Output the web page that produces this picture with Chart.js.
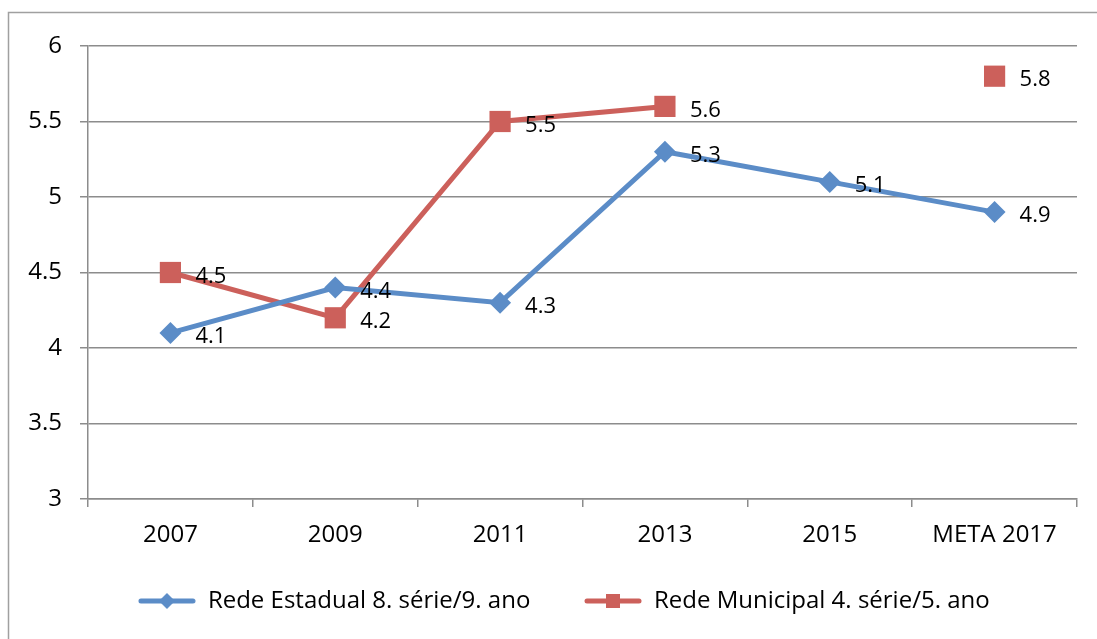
<!DOCTYPE html>
<html lang="pt">
<head>
    <meta charset="UTF-8">
    <title>Rede Estadual x Rede Municipal</title>
    <script src="https://cdn.jsdelivr.net/npm/chart.js"></script>
    <style>
        body {
            margin: 0;
            padding: 0;
            background: #fff;
        }
        #chart-container {
            width: 1097px;
            height: 639px;
        }
    </style>
</head>
<body>
    <div id="chart-container">
        <canvas id="myChart"></canvas>
    </div>
    <script>
        // dados do gráfico
        const categorias = ['2007', '2009', '2011', '2013', '2015', 'META 2017'];
        const redeEstadual = [4.1, 4.4, 4.3, 5.3, 5.1, 4.9];
        const redeMunicipal = [4.5, 4.2, 5.5, 5.6, null, 5.8];
        const nomesSeries = ['Rede Estadual 8. série/9. ano', 'Rede Municipal 4. série/5. ano'];

        const azul = '#5B8CC7';
        const vermelho = '#CC605B';
        const cinza = '#8C8C8C';
        const fonte = "'Open Sans', sans-serif";

        // ícone da legenda: linha com marcador no meio
        function iconeLegenda(cor, tipo) {
            const c = document.createElement('canvas');
            c.width = 58;
            c.height = 22;
            const g = c.getContext('2d');
            g.strokeStyle = cor;
            g.lineWidth = 5;
            g.lineCap = 'round';
            g.beginPath();
            g.moveTo(3, 11);
            g.lineTo(55, 11);
            g.stroke();
            g.fillStyle = cor;
            g.beginPath();
            if (tipo === 'diamante') {
                g.moveTo(29, 3); g.lineTo(37, 11); g.lineTo(29, 19); g.lineTo(21, 11);
            } else {
                g.rect(22, 4, 14, 14);
            }
            g.fill();
            return c;
        }
        const icones = [iconeLegenda(azul, 'diamante'), iconeLegenda(vermelho, 'quadrado')];

        // moldura externa
        const moldura = {
            id: 'moldura',
            beforeDraw(chart) {
                const g = chart.ctx;
                g.save();
                g.strokeStyle = '#A0A0A0';
                g.lineWidth = 1.5;
                g.beginPath();
                g.moveTo(8.5, chart.height);
                g.lineTo(8.5, 12.5);
                g.lineTo(chart.width, 12.5);
                g.stroke();
                g.restore();
            }
        };

        // rótulos de dados à direita de cada ponto
        const rotulos = {
            id: 'rotulos',
            afterDatasetsDraw(chart) {
                const g = chart.ctx;
                g.save();
                g.font = '22px ' + fonte;
                g.fillStyle = '#000';
                g.textAlign = 'left';
                g.textBaseline = 'middle';
                chart.data.datasets.forEach((ds, i) => {
                    chart.getDatasetMeta(i).data.forEach((pt, j) => {
                        const v = ds.data[j];
                        if (v === null || v === undefined) return;
                        g.fillText(v.toFixed(1), pt.x + 25, pt.y + 4);
                    });
                });
                g.restore();
            }
        };

        const ctx = document.getElementById('myChart').getContext('2d');
        new Chart(ctx, {
            type: 'line',
            data: {
                labels: categorias,
                datasets: [
                    {
                        label: nomesSeries[0],
                        data: redeEstadual,
                        borderColor: azul,
                        backgroundColor: azul,
                        borderWidth: 5,
                        pointStyle: 'rectRot',
                        pointRadius: 11,
                        pointHoverRadius: 11,
                        pointBorderWidth: 0,
                        tension: 0
                    },
                    {
                        label: nomesSeries[1],
                        data: redeMunicipal,
                        borderColor: vermelho,
                        backgroundColor: vermelho,
                        borderWidth: 5,
                        pointStyle: 'rect',
                        pointRadius: 15,
                        pointHoverRadius: 15,
                        pointBorderWidth: 0,
                        spanGaps: false,
                        tension: 0
                    }
                ]
            },
            options: {
                responsive: true,
                maintainAspectRatio: false,
                animation: false,
                layout: {
                    padding: { left: 18, right: 20, top: 46, bottom: 16 }
                },
                scales: {
                    x: {
                        offset: true,
                        afterFit(scale) { scale.height = 80; },
                        grid: {
                            offset: true,
                            drawOnChartArea: false,
                            tickLength: 8,
                            color: cinza,
                            lineWidth: 1.5
                        },
                        border: { color: cinza, width: 1.5 },
                        ticks: {
                            padding: 14,
                            color: '#000',
                            font: { family: fonte, size: 24 }
                        }
                    },
                    y: {
                        min: 3,
                        max: 6,
                        afterFit(scale) { scale.width = 70; },
                        grid: {
                            tickLength: 8,
                            color: cinza,
                            lineWidth: 1.5
                        },
                        border: { color: cinza, width: 1.5 },
                        ticks: {
                            stepSize: 0.5,
                            padding: 18,
                            color: '#000',
                            font: { family: fonte, size: 24 },
                            callback: v => String(v)
                        }
                    }
                },
                plugins: {
                    legend: {
                        display: true,
                        position: 'bottom',
                        fullSize: false,
                        labels: {
                            usePointStyle: true,
                            pointStyleWidth: 58,
                            boxHeight: 22,
                            padding: 10,
                            color: '#000',
                            font: { family: fonte, size: 24 },
                            generateLabels(chart) {
                                const itens = Chart.defaults.plugins.legend.labels.generateLabels(chart);
                                itens.forEach((it, i) => {
                                    it.pointStyle = icones[i];
                                    // espaços só para afastar os itens como no original
                                    it.text = i === 0 ? it.text + '       ' : it.text + '      ';
                                });
                                return itens;
                            }
                        }
                    },
                    tooltip: { enabled: false }
                }
            },
            plugins: [moldura, rotulos]
        });
    </script>
</body>
</html>
